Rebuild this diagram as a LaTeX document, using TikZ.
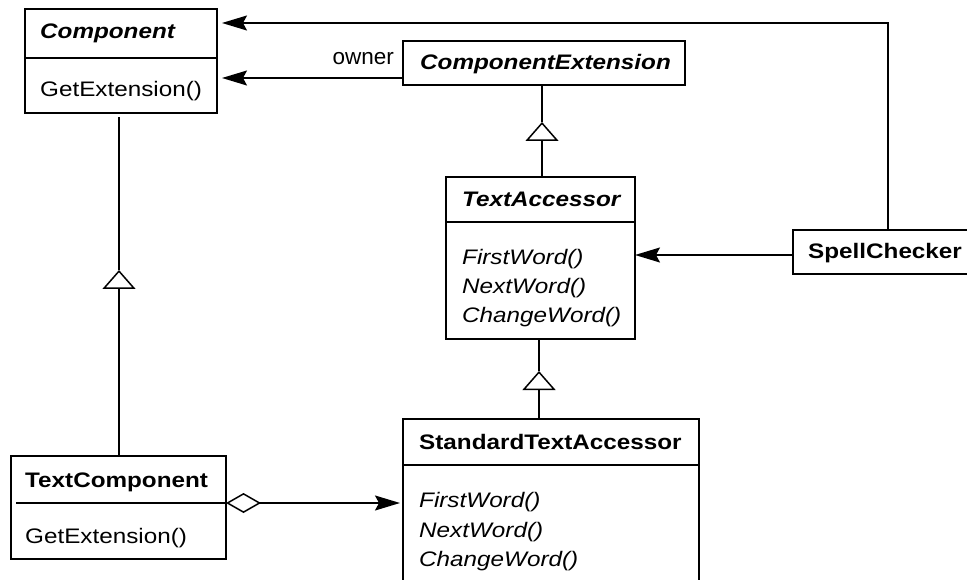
\documentclass[tikz,border=0pt]{standalone}
\usepackage{fontspec}
\setmainfont{Liberation Sans}[FakeStretch=1.155]
\newfontfamily\plainfont{Liberation Sans}
\usetikzlibrary{arrows.meta}
\begin{document}
\begin{tikzpicture}[x=1pt,y=-1pt,
 box/.style={draw, line width=1.5pt, rectangle, inner sep=0pt, outer sep=0pt},
 txt/.style={anchor=base west, inner sep=0pt, font=\fontsize{21}{25}\selectfont},
 ttl/.style={txt, font=\fontsize{21}{25}\selectfont\bfseries},
 attl/.style={txt, font=\fontsize{21}{25}\selectfont\bfseries\itshape},
 op/.style={txt, font=\fontsize{21}{25}\selectfont\itshape},
 role/.style={anchor=base east, inner sep=0pt, font=\plainfont\fontsize{22.5}{26}\selectfont},
 conn/.style={line width=1.5pt},
 assoc/.style={conn, -{Stealth[length=25pt,width=15pt,inset=4pt]}},
 gen/.style={conn, -{Triangle[open,length=19pt,width=33pt]}},
 agg/.style={conn, {Diamond[open,length=35pt,width=20pt]}-{Stealth[length=25pt,width=15pt,inset=4pt]}},
 div/.style={line width=1.5pt}
]
\useasboundingbox (0,0) rectangle (967,580);
\clip (0,0) rectangle (967,580);

% Component
\node[box, minimum width=192pt, minimum height=104pt] (comp) at (121,61) {};
\draw[div] (comp.west |- 0,58) -- (comp.east |- 0,58);
\node[attl] (compT) at (40,38.5) {Component};
\node[txt] (compM) at (40,97) {GetExtension()};

% ComponentExtension
\node[box, minimum width=282pt, minimum height=44pt] (ce) at (544,63) {};
\node[attl] (ceT) at (420,70) {ComponentExtension};
\node[role] (own) at (394,65) {owner};

% TextAccessor
\node[box, minimum width=189pt, minimum height=162pt] (ta) at (540.5,258) {};
\draw[div] (ta.west |- 0,222) -- (ta.east |- 0,222);
\node[attl] (taT) at (462,207) {TextAccessor};
\node[op] (taM1) at (462,265) {FirstWord()};
\node[op] (taM2) at (462,294) {NextWord()};
\node[op] (taM3) at (462,323) {ChangeWord()};

% SpellChecker
\node[box, minimum width=182pt, minimum height=44pt] (sc) at (884,252) {};
\node[ttl] (scT) at (808,259) {SpellChecker};

% StandardTextAccessor
\node[box, minimum width=296pt, minimum height=190pt] (sta) at (551,514) {};
\draw[div] (sta.west |- 0,465) -- (sta.east |- 0,465);
\node[ttl] (staT) at (419,449) {StandardTextAccessor};
\node[op] (staM1) at (419,507) {FirstWord()};
\node[op] (staM2) at (419,537) {NextWord()};
\node[op] (staM3) at (419,566) {ChangeWord()};

% TextComponent
\node[box, minimum width=215pt, minimum height=103pt] (tc) at (118.5,507.5) {};
\draw[div] (16,503) -- (tc.east |- 0,503);
\node[ttl] (tcT) at (25,487) {TextComponent};
\node[txt] (tcM) at (25,543) {GetExtension()};

% associations
\coordinate (scTop) at (sc.north -| 888,0);
\draw[assoc, shorten >=5pt] (scTop) |- ([yshift=-14pt]comp.north east);
\coordinate (ownS) at ([yshift=-15pt]ce.west);
\draw[assoc, shorten >=5pt] (ownS) -- (comp.east |- ownS);
\coordinate (scL) at ([yshift=-3pt]sc.west);
\draw[assoc] (scL) -- (ta.east |- scL);
\coordinate (tcR) at (tc.east |- 0,503);
\draw[agg, shorten >=3pt] (tcR) -- (sta.west |- tcR);

% generalizations
\coordinate (g1) at (542,122);
\draw[gen] (ta.north -| g1) -- (g1);
\draw[conn] (g1) -- (g1 |- ce.south);
\coordinate (g2) at (539,371);
\draw[gen] (sta.north -| g2) -- (g2);
\draw[conn] (g2) -- (g2 |- ta.south);
\coordinate (g3) at (119,270);
\draw[gen] (tc.north -| g3) -- (g3);
\draw[conn] (g3) -- ([yshift=-4pt]comp.south -| g3);
\end{tikzpicture}
\end{document}
